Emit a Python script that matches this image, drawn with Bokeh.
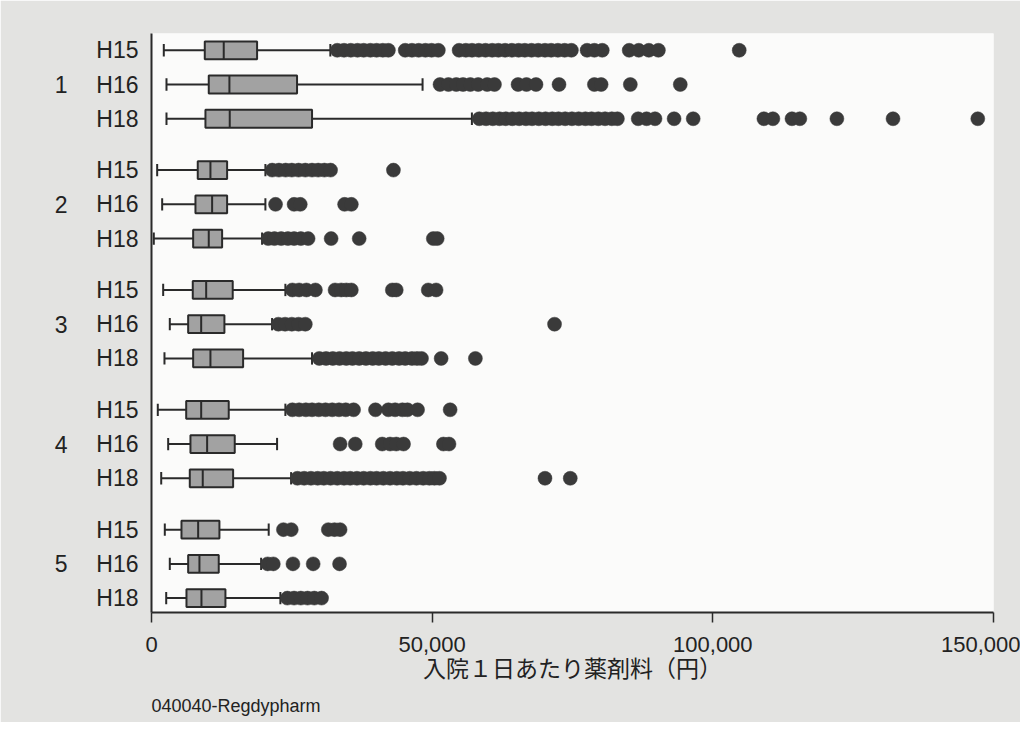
from bokeh.plotting import figure
from bokeh.models import Range1d, LinearAxis, FixedTicker, NumeralTickFormatter, ColumnDataSource, Title
from bokeh.embed import file_html
from bokeh.resources import INLINE

groups = ["1", "2", "3", "4", "5"]
years = ["H15", "H16", "H18"]

# box statistics, order: group 1 (H15, H16, H18), group 2 (...), ...
whisker_low = [2190, 2670, 2670, 1010, 1900, 410, 2080, 3260, 2310, 1120, 2970, 1730, 2370, 3260, 2620]
q1 = [9490, 10200, 9610, 8240, 7830, 7420, 7350, 6530, 7420, 6180, 6940, 6820, 5340, 6530, 6230]
median = [12870, 13880, 13940, 10500, 10800, 10200, 9740, 8850, 10500, 8850, 9910, 9130, 8310, 8540, 8900]
q3 = [18810, 25930, 28600, 13470, 13470, 12580, 14470, 12990, 16320, 13760, 14830, 14540, 12100, 11980, 13170]
whisker_high = [31860, 48290, 57080, 20290, 20290, 19700, 23850, 21480, 28600, 23850, 22370, 24870, 20880, 19530, 22960]

out_g1 = [
    [33100, 34300, 35500, 36700, 37800, 39000, 40100, 41200, 42200, 45200, 46400, 47600, 48800, 49900,
     51100, 54800, 56000, 57100, 58300, 59500, 60700, 61800, 63000, 64200, 65400, 66500, 67700, 68900,
     70100, 71200, 72400, 73600, 74800, 77600, 78900, 80300, 85100, 86800, 88600, 90300, 104700],
    [51400, 52900, 54300, 55500, 56800, 58200, 59800, 61100, 65300, 66800, 68500, 72600, 78900, 80100,
     85300, 94200],
    [58400, 59600, 60800, 62000, 63100, 64300, 65500, 66700, 67800, 69000, 70200, 71400, 72500, 73700,
     74900, 76100, 77300, 78400, 79600, 80800, 82000, 83000, 86700, 88200, 89700, 93100, 96500, 109100,
     110700, 114100, 115500, 122100, 132100, 147200],
]
out_g2 = [
    [21500, 22700, 23900, 25000, 26200, 27400, 28600, 29700, 30800, 31900, 43100],
    [22100, 25400, 26500, 34400, 35600],
    [20800, 21900, 23100, 24300, 25400, 26600, 27900, 32000, 37000, 50200, 50900],
]
out_g3 = [
    [25100, 26300, 27600, 29200, 32700, 33800, 34700, 35600, 42900, 43600, 49300, 50700],
    [22600, 23800, 25000, 26200, 27400, 71800],
    [29900, 31100, 32300, 33500, 34700, 35800, 37000, 38200, 39400, 40500, 41700, 42900, 44100, 45200,
     46400, 47300, 48100, 51600, 57700],
]
out_g4 = [
    [25100, 26300, 27500, 28600, 29800, 31000, 32200, 33400, 34600, 36000, 39900, 42200, 43400, 44700,
     45600, 47400, 53200],
    [33600, 36300, 41100, 42500, 43600, 44900, 52000, 53000],
    [26000, 27200, 28400, 29600, 30700, 31900, 33100, 34300, 35400, 36600, 37800, 39000, 40100, 41300,
     42500, 43700, 44800, 46000, 47200, 48400, 49500, 50400, 51300, 70100, 74600],
]
out_g5 = [
    [23500, 24900, 31500, 32600, 33600],
    [20700, 21700, 25200, 28800, 33500],
    [24200, 25400, 26600, 27800, 29000, 30300],
]
x_ticks = [0, 50000, 100000, 150000]
x_title = "入院１日あたり薬剤料（円）"
footer = "040040-Regdypharm"

# ---- layout of rows (group gap = 1.5 rows)
GROUP_STEP = 3.5
rows_y, row_labels = [], []
for gi, g in enumerate(groups):
    for yi, yr in enumerate(years):
        rows_y.append(gi * GROUP_STEP + yi)
        row_labels.append(yr)
group_y = [gi * GROUP_STEP + 1 for gi in range(len(groups))]

BOX_H = 0.52
CAP_H = 0.36
LINE = "#2a2a2a"
FILL = "#a2a2a2"
DOT = "#3a3a3a"
FONT = "Liberation Sans"

p = figure(width=1020, height=722, output_backend="svg", toolbar_location=None,
           x_range=Range1d(0, 150000), y_range=Range1d(16.42, -0.49),
           min_border_left=151, min_border_right=27, min_border_top=33, min_border_bottom=107)
p.border_fill_color = "#e3e3e1"
p.background_fill_color = "#fbfbfa"
p.outline_line_color = None
p.xgrid.visible = False
p.ygrid.visible = False

src = ColumnDataSource(dict(y=rows_y, lo=whisker_low, q1=q1, med=median, q3=q3, hi=whisker_high))

# whiskers
p.segment(x0="lo", y0="y", x1="q1", y1="y", source=src, line_color=LINE, line_width=2)
p.segment(x0="q3", y0="y", x1="hi", y1="y", source=src, line_color=LINE, line_width=2)
cap_src = ColumnDataSource(dict(
    x=whisker_low + whisker_high,
    y0=[y - CAP_H / 2 for y in rows_y] * 2,
    y1=[y + CAP_H / 2 for y in rows_y] * 2))
p.segment(x0="x", y0="y0", x1="x", y1="y1", source=cap_src, line_color=LINE, line_width=2)

# outliers
ox, oy = [], []
for gi, outs in enumerate([out_g1, out_g2, out_g3, out_g4, out_g5]):
    for yi, vals in enumerate(outs):
        ox.extend(vals)
        oy.extend([gi * GROUP_STEP + yi] * len(vals))
p.scatter(x=ox, y=oy, size=14, fill_color=DOT, line_color=DOT, line_width=0.5)

# boxes
p.hbar(y="y", left="q1", right="q3", height=BOX_H, source=src,
       fill_color=FILL, line_color=LINE, line_width=2)
med_src = ColumnDataSource(dict(x=median, y0=[y - BOX_H / 2 for y in rows_y],
                                y1=[y + BOX_H / 2 for y in rows_y]))
p.segment(x0="x", y0="y0", x1="x", y1="y1", source=med_src, line_color=LINE, line_width=2)

# x axis
xa = p.xaxis[0]
xa.ticker = FixedTicker(ticks=x_ticks)
xa.formatter = NumeralTickFormatter(format="0,0")
xa.minor_tick_line_color = None
xa.major_tick_in = 0
xa.major_tick_out = 10
xa.major_tick_line_width = 1.5
xa.axis_line_width = 2
xa.axis_line_color = LINE
xa.major_tick_line_color = LINE
xa.major_label_text_font = FONT
xa.major_label_text_font_size = "22px"
xa.major_label_text_color = "#222222"
xa.major_label_standoff = 14
xa.axis_label = x_title
xa.axis_label_text_font = "Noto Sans CJK JP"
xa.axis_label_text_font_size = "23px"
xa.axis_label_text_font_style = "normal"
xa.axis_label_text_color = "#222222"
xa.axis_label_standoff = -5

# inner y axis: year labels
ya = p.yaxis[0]
ya.ticker = FixedTicker(ticks=rows_y)
ya.major_label_overrides = {y: lab for y, lab in zip(rows_y, row_labels)}
ya.major_tick_line_color = None
ya.minor_tick_line_color = None
ya.major_tick_out = 0
ya.major_tick_in = 0
ya.axis_line_width = 2
ya.axis_line_color = LINE
ya.major_label_text_font = FONT
ya.major_label_text_font_size = "23px"
ya.major_label_text_color = "#222222"
ya.major_label_standoff = 13

# outer y axis: group labels
ga = LinearAxis(ticker=FixedTicker(ticks=group_y),
                major_label_overrides={y: g for y, g in zip(group_y, groups)})
ga.axis_line_color = None
ga.major_tick_line_color = None
ga.minor_tick_line_color = None
ga.major_tick_out = 0
ga.major_tick_in = 0
ga.major_label_text_font = FONT
ga.major_label_text_font_size = "23px"
ga.major_label_text_color = "#222222"
ga.major_label_standoff = 26
p.add_layout(ga, "left")

p.add_layout(Title(text=footer, align="left", text_font=FONT, text_font_size="18px",
                   text_font_style="normal", text_color="#222222", standoff=14), "below")

open("out.html", "w").write(file_html(p, INLINE))
